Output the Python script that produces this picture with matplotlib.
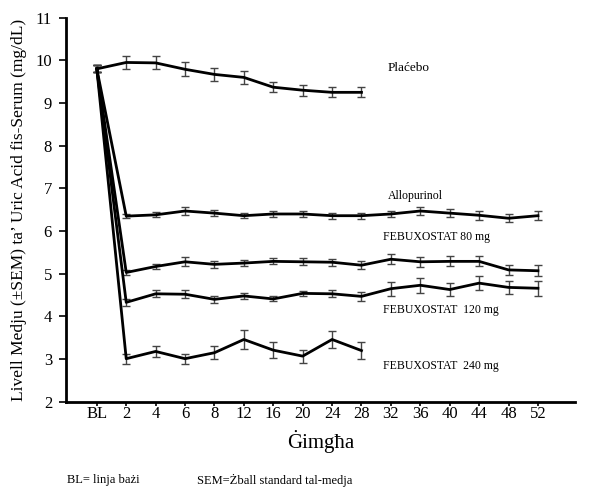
import numpy as np
import matplotlib
matplotlib.use('Agg')
import matplotlib.pyplot as plt

plt.rcParams['font.family'] = ['Liberation Serif', 'DejaVu Serif']

# weeks on the x axis (categorical)
weeks = ['BL', '2', '4', '6', '8', '12', '16', '20', '24', '28', '32', '36', '40', '44', '48', '52']

placebo = [9.80, 9.95, 9.94, 9.79, 9.67, 9.60, 9.37, 9.30, 9.25, 9.25]
placebo_err = [0.08, 0.15, 0.15, 0.16, 0.16, 0.15, 0.12, 0.13, 0.12, 0.12]

allopurinol = [9.80, 6.35, 6.38, 6.47, 6.42, 6.36, 6.40, 6.40, 6.36, 6.36, 6.40, 6.47, 6.42, 6.37, 6.30, 6.36]
allopurinol_err = [0.08, 0.05, 0.06, 0.09, 0.07, 0.06, 0.06, 0.07, 0.07, 0.07, 0.08, 0.10, 0.10, 0.10, 0.09, 0.10]

feb80 = [9.80, 5.03, 5.17, 5.28, 5.22, 5.25, 5.29, 5.28, 5.27, 5.20, 5.34, 5.28, 5.29, 5.29, 5.09, 5.07]
feb80_err = [0.08, 0.06, 0.07, 0.11, 0.08, 0.08, 0.07, 0.08, 0.08, 0.10, 0.12, 0.12, 0.12, 0.12, 0.11, 0.13]

feb120 = [9.80, 4.33, 4.53, 4.52, 4.40, 4.48, 4.41, 4.54, 4.53, 4.47, 4.65, 4.73, 4.63, 4.78, 4.68, 4.66]
feb120_err = [0.08, 0.08, 0.08, 0.09, 0.08, 0.08, 0.06, 0.06, 0.08, 0.10, 0.16, 0.18, 0.16, 0.16, 0.16, 0.18]

feb240 = [9.80, 3.01, 3.18, 3.01, 3.15, 3.46, 3.21, 3.07, 3.46, 3.20]
feb240_err = [0.08, 0.12, 0.13, 0.12, 0.15, 0.23, 0.18, 0.15, 0.20, 0.20]

series = [
    (placebo, placebo_err),
    (allopurinol, allopurinol_err),
    (feb80, feb80_err),
    (feb120, feb120_err),
    (feb240, feb240_err),
]

fig = plt.figure(figsize=(5.94, 4.90), dpi=100)
ax = fig.add_axes([0.111, 0.18, 0.857, 0.784])

for vals, errs in series:
    x = np.arange(len(vals))
    ax.errorbar(x, vals, yerr=errs, color='black', lw=2, ecolor='#444444',
                elinewidth=1, capsize=3, capthick=1)

# series labels
ax.text(9.9, 9.83, 'Plaćebo', fontsize=9.5, va='center')
ax.text(9.9, 6.81, 'Allopurinol', fontsize=8.5, va='center')
ax.text(9.73, 5.87, 'FEBUXOSTAT 80 mg', fontsize=8.5, va='center')
ax.text(9.73, 4.14, 'FEBUXOSTAT  120 mg', fontsize=8.5, va='center')
ax.text(9.73, 2.83, 'FEBUXOSTAT  240 mg', fontsize=8.5, va='center')

ax.set_xlim(-1.05, 16.26)
ax.set_ylim(2, 11)
ax.set_xticks(range(len(weeks)))
ax.set_xticklabels(weeks)
ax.set_yticks(range(2, 12))
ax.tick_params(axis='both', labelsize=12, direction='out', width=1.2)
ax.tick_params(axis='x', length=3, pad=0)
ax.tick_params(axis='y', length=5, pad=5)

for s in ['top', 'right']:
    ax.spines[s].set_visible(False)
for s in ['left', 'bottom']:
    ax.spines[s].set_linewidth(2)

ax.set_ylabel("Livell Medju (±SEM) ta’ Uric Acid fis-Serum (mg/dL)", fontsize=12.5, labelpad=6)

fig.text(0.54, 0.10, 'Ġimgħa', fontsize=15, ha='center', va='center')
fig.text(0.113, 0.02, 'BL= linja bażi', fontsize=9, va='center')
fig.text(0.332, 0.02, 'SEM=Żball standard tal-medja', fontsize=9, va='center')

fig.savefig('out.png', dpi=100)
